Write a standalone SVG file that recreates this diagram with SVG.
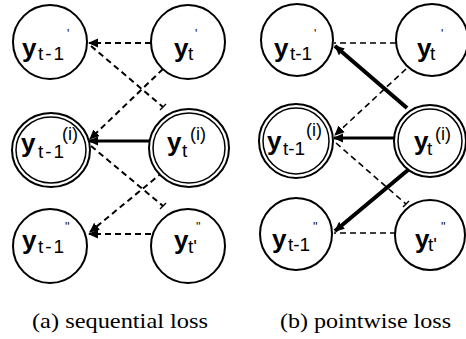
<svg xmlns="http://www.w3.org/2000/svg" width="466" height="339" viewBox="0 0 466 339">
<style>
.c{fill:#fff;stroke:#000;stroke-width:2}
.ci{fill:none;stroke:#000;stroke-width:1.5}
.d{fill:none;stroke:#000;stroke-width:2;stroke-dasharray:6 4}
.db{fill:none;stroke:#000;stroke-width:1.6;stroke-dasharray:6 4}
.s{fill:none;stroke:#000;stroke-width:3}
.t{fill:none;stroke:#000;stroke-width:4}
.tk{fill:none;stroke:#000;stroke-width:1.5}
.y{font-family:"Liberation Sans",Arial,sans-serif;font-size:26px;font-weight:bold}
.sb{font-family:"Liberation Sans",Arial,sans-serif;font-size:19px}
.sa{letter-spacing:2px}
.sp{font-family:"Liberation Sans",Arial,sans-serif;font-size:18px}
.pr{font-family:"Liberation Sans",Arial,sans-serif;font-size:12px}
.cap{font-family:"Liberation Serif","Times New Roman",serif;font-size:21px}
</style>
<defs>
<marker id="ah" markerUnits="userSpaceOnUse" markerWidth="10" markerHeight="10" viewBox="0 0 10 10" refX="9" refY="5" orient="auto">
<path d="M0,0.5 L10,5 L0,9.5 Z" fill="#000"/>
</marker>
</defs>
<g id="connectors">
<!-- panel a -->
<line class="d" x1="151" y1="43" x2="89" y2="43" marker-end="url(#ah)"/>
<line class="d" x1="91" y1="46" x2="163" y2="107"/>
<line class="tk" x1="160" y1="110" x2="166" y2="104"/>
<line class="d" x1="163" y1="69" x2="90" y2="139" marker-end="url(#ah)"/>
<line class="s" x1="150" y1="141" x2="89" y2="141" marker-end="url(#ah)"/>
<line class="d" x1="91" y1="146" x2="163" y2="206"/>
<line class="tk" x1="160" y1="209" x2="166" y2="203"/>
<line class="d" x1="163" y1="172" x2="90" y2="232" marker-end="url(#ah)"/>
<line class="d" x1="151" y1="234" x2="89" y2="234" marker-end="url(#ah)"/>
<!-- panel b -->
<line class="db" x1="396" y1="43" x2="334" y2="43"/>
<line class="t" x1="407" y1="108" x2="335" y2="46" marker-end="url(#ah)"/>
<line class="db" x1="406" y1="69" x2="335" y2="135" marker-end="url(#ah)"/>
<line class="s" x1="395" y1="138" x2="334" y2="138" marker-end="url(#ah)"/>
<line class="db" x1="336" y1="143" x2="406" y2="204"/>
<line class="tk" x1="403" y1="207" x2="409" y2="201"/>
<line class="t" x1="408" y1="170" x2="335" y2="231" marker-end="url(#ah)"/>
<line class="db" x1="396" y1="233" x2="334" y2="233"/>
</g>
<g id="a-tl"><circle class="c" cx="50" cy="42" r="37"/>
<text class="y" x="22" y="57">y</text><text class="sb sa" x="38" y="60">t-1</text><text class="pr" x="67" y="38">'</text></g>
<g id="a-tr"><circle class="c" cx="188" cy="42" r="37"/>
<text class="y" x="174" y="57">y</text><text class="sb" x="188" y="60">t</text><text class="pr" x="195" y="38">'</text></g>
<g id="a-ml"><ellipse class="c" cx="51" cy="150" rx="39" ry="37"/><ellipse class="ci" cx="51" cy="150" rx="35" ry="33"/>
<text class="y" x="21" y="152">y</text><text class="sb sa" x="38" y="158">t-1</text><text class="sp" x="62" y="140">(i)</text></g>
<g id="a-mr"><ellipse class="c" cx="189" cy="148" rx="40" ry="39"/><ellipse class="ci" cx="189" cy="148" rx="36" ry="35"/>
<text class="y" x="167" y="151">y</text><text class="sb" x="182" y="157">t</text><text class="sp" x="190" y="140">(i)</text></g>
<g id="a-bl"><circle class="c" cx="50" cy="246" r="37"/>
<text class="y" x="22" y="249">y</text><text class="sb sa" x="38" y="253">t-1</text><text class="pr" x="65" y="231">''</text></g>
<g id="a-br"><circle class="c" cx="188" cy="246" r="37"/>
<text class="y" x="174" y="249">y</text><text class="sb" x="188" y="253">t'</text><text class="pr" x="196" y="231">''</text></g>
<g id="b-tl"><circle class="c" cx="297" cy="40" r="36"/>
<text class="y" x="274" y="57">y</text><text class="sb" x="290" y="60">t-1</text><text class="pr" x="314" y="38">'</text></g>
<g id="b-tr"><circle class="c" cx="432" cy="40" r="36"/>
<text class="y" x="417" y="57">y</text><text class="sb" x="430" y="60">t</text><text class="pr" x="441" y="38">'</text></g>
<g id="b-ml"><circle class="c" cx="296" cy="141" r="37"/><circle class="ci" cx="296" cy="141" r="33"/>
<text class="y" x="267" y="150">y</text><text class="sb" x="283" y="155">t-1</text><text class="sp" x="306" y="136">(i)</text></g>
<g id="b-mr"><circle class="c" cx="430" cy="141" r="36"/><circle class="ci" cx="430" cy="141" r="32"/>
<text class="y" x="414" y="150">y</text><text class="sb" x="427" y="155">t</text><text class="sp" x="435" y="140">(i)</text></g>
<g id="b-bl"><circle class="c" cx="296" cy="234" r="36"/>
<text class="y" x="272" y="248">y</text><text class="sb" x="288" y="251">t-1</text><text class="pr" x="313" y="231">''</text></g>
<g id="b-br"><circle class="c" cx="430" cy="235" r="35"/>
<text class="y" x="415" y="248">y</text><text class="sb" x="428" y="251">t'</text><text class="pr" x="441" y="231">''</text></g>
<text class="cap" x="32" y="328" textLength="176" lengthAdjust="spacingAndGlyphs">(a) sequential loss</text>
<text class="cap" x="280" y="328" textLength="171" lengthAdjust="spacingAndGlyphs">(b) pointwise loss</text>
</svg>
